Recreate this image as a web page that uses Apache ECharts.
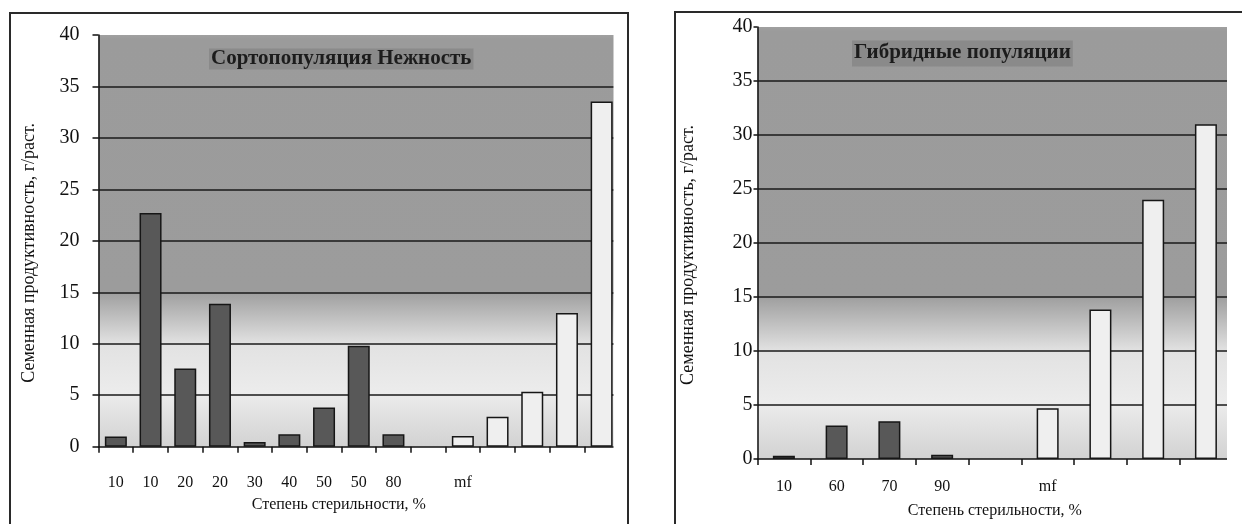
<!DOCTYPE html>
<html><head><meta charset="utf-8">
<script src="https://cdn.jsdelivr.net/npm/echarts@6/dist/echarts.min.js"></script>
<style>html,body{margin:0;padding:0;background:#fff}#c{width:1242px;height:524px}</style>
</head><body><div id="c"></div>
<script>
// ---- data ----
const leftTitle = 'Сортопопуляция Нежность';
const rightTitle = 'Гибридные популяции';
const yAxisName = 'Семенная продуктивность, г/раст.';
const xAxisName = 'Степень стерильности, %';
const leftCategories = ['10','10','20','20','30','40','50','50','80','','mf','','','',''];
const leftSterile = [1.0,22.7,7.6,13.9,0.45,1.2,3.8,9.8,1.2,null,null,null,null,null,null];
const leftFertile = [null,null,null,null,null,null,null,null,null,null,1.05,2.9,5.35,13.0,33.55];
const rightCategories = ['10','60','70','90','','mf','','',''];
const rightSterile = [0.3,3.1,3.5,0.4,null,null,null,null,null];
const rightFertile = [null,null,null,null,null,4.7,13.85,24.0,31.0];
const yMin = 0, yMax = 40, yStep = 5;

// ---- style ----
const SERIF = '"Liberation Serif","Times New Roman",serif';
const bg = {type:'linear',x:0,y:0,x2:0,y2:1,colorStops:[
  {offset:0,color:'#a0a0a0'},{offset:0.01,color:'#9b9b9b'},
  {offset:0.62,color:'#9c9c9c'},{offset:0.75,color:'#e2e2e2'},
  {offset:0.87,color:'#ececec'},{offset:1,color:'#d2d2d2'}]};

function grid(left, top, width, height){
  return {left, top, width, height, show:true, backgroundColor:bg, borderWidth:0, containLabel:false};
}
function xAxis(idx, cats, margin, gap, pad){
  return {type:'category', gridIndex:idx, data:cats,
    axisLine:{lineStyle:{color:'#111',width:1.5}},
    axisTick:{show:true,length:6,lineStyle:{color:'#111',width:1.5}},
    axisLabel:{interval:0,margin:margin,fontFamily:SERIF,fontSize:16,color:'#111'},
    name:xAxisName,nameLocation:'middle',nameGap:gap,
    nameTextStyle:{fontFamily:SERIF,fontSize:16,color:'#111',padding:pad}};
}
function yAxis(idx, labMargin, tickLen){
  return {type:'value', gridIndex:idx, min:yMin, max:yMax, interval:yStep,
    axisLine:{show:true,lineStyle:{color:'#111',width:1.5}},
    axisTick:{show:true,length:tickLen,lineStyle:{color:'#111',width:1.5}},
    axisLabel:{margin:labMargin,fontFamily:SERIF,fontSize:20,color:'#111'},
    splitLine:{show:true,showMaxLine:false,showMinLine:false,lineStyle:{color:'#1a1a1a',width:1.6}},
    name:yAxisName,nameLocation:'middle',nameGap:60,nameRotate:90,
    nameTextStyle:{fontFamily:SERIF,fontSize:18,color:'#111',padding:[0,24,0,0]}};
}
function bars(name, idx, data, color){
  return {type:'bar', name, xAxisIndex:idx, yAxisIndex:idx, data, stack:'s'+idx, barWidth:22,
    itemStyle:{color, borderColor:'#161616', borderWidth:1.5}, z:3};
}

const chart = echarts.init(document.getElementById('c'), null, {renderer:'canvas'});
chart.setOption({
  animation:false,
  backgroundColor:'#fff',
  title:[
    {text:leftTitle,left:209,top:49,padding:[0,2,0,2],backgroundColor:'#8a8a8a',
     textStyle:{fontFamily:SERIF,fontSize:21,fontWeight:'bold',color:'#1c1c1c',lineHeight:20}},
    {text:rightTitle,left:852,top:41,padding:[2,2,3,2],backgroundColor:'#8a8a8a',
     textStyle:{fontFamily:SERIF,fontSize:21,fontWeight:'bold',color:'#1c1c1c',lineHeight:20}}
  ],
  grid:[grid(98.5,35,520.5,411.7), grid(757.5,27,474.8,433)],
  xAxis:[xAxis(0,leftCategories,28,50,[0,40,0,0]), xAxis(1,rightCategories,20,44,[0,0,0,0])],
  yAxis:[yAxis(0,19,6), yAxis(1,5,4)],
  series:[
    bars('Стерильные',0,leftSterile,'#585858'),
    bars('Фертильные',0,leftFertile,'#efefef'),
    bars('Стерильные',1,rightSterile,'#585858'),
    bars('Фертильные',1,rightFertile,'#efefef')
  ],
  graphic:[
    {type:'rect',z:100,shape:{x:613.5,y:20,width:13,height:470},style:{fill:'#fff'}},
    {type:'rect',z:100,shape:{x:1227,y:15,width:20,height:470},style:{fill:'#fff'}},
    {type:'rect',z:101,shape:{x:10,y:13,width:618,height:600},style:{fill:'none',stroke:'#2a2a2a',lineWidth:2}},
    {type:'rect',z:101,shape:{x:675,y:12,width:620,height:600},style:{fill:'none',stroke:'#2a2a2a',lineWidth:2}}
  ]
});
</script></body></html>
